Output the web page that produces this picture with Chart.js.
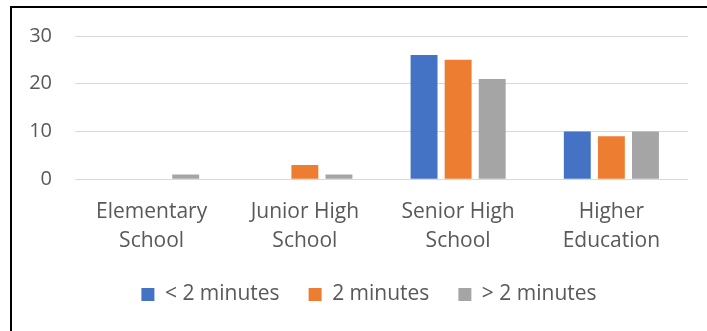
<!DOCTYPE html>
<html>
<head>
<meta charset="utf-8">
<script src="https://cdn.jsdelivr.net/npm/chart.js@4/dist/chart.umd.min.js"></script>
<style>
  html, body { margin: 0; padding: 0; background: #fff; overflow: hidden; width: 707px; height: 331px; }
  #frame { position: absolute; left: 10px; top: 6px; width: 800px; height: 400px; border: 2px solid #000; box-sizing: border-box; }
  #wrap { position: absolute; left: 0; top: 0; width: 707px; height: 331px; }
</style>
</head>
<body>
<div id="frame"></div>
<div id="wrap"><canvas id="c" width="707" height="331"></canvas></div>
<script>
const categories = [["Elementary", "School"], ["Junior High", "School"], ["Senior High", "School"], ["Higher", "Education"]];
const seriesNames = ["< 2 minutes", "2 minutes", "> 2 minutes"];
const lessThan2 = [0, 0, 26, 10];
const exactly2 = [0, 3, 25, 9];
const moreThan2 = [1, 1, 21, 10];
const yTicks = [0, 10, 20, 30];

const colors = ["#4472C4", "#ED7D31", "#A5A5A5"];
const FONT = "'Open Sans', 'Noto Sans', sans-serif";
const TXT = "#595959";

const shiftLegend = {
  id: "shiftLegend",
  beforeDraw(chart) {
    const l = chart.legend;
    if (l && !l._shifted) { l.left += 25; l.right += 25; l._shifted = true; }
  }
};

new Chart(document.getElementById("c"), {
  type: "bar",
  data: {
    labels: categories,
    datasets: [lessThan2, exactly2, moreThan2].map((d, i) => ({
      label: seriesNames[i],
      data: d,
      backgroundColor: colors[i],
      borderWidth: 0,
      categoryPercentage: 0.667,
      barPercentage: 0.79
    }))
  },
  plugins: [shiftLegend],
  options: {
    responsive: false,
    animation: false,
    events: [],
    layout: { padding: { left: 0, right: 19, top: 36, bottom: 16 } },
    plugins: {
      tooltip: { enabled: false },
      legend: {
        position: "bottom",
        labels: {
          boxWidth: 13, boxHeight: 13,
          padding: 29,
          color: TXT,
          font: { family: FONT, size: 21 }
        }
      }
    },
    scales: {
      x: {
        grid: { display: false, drawTicks: false },
        border: { display: false },
        afterFit: (s) => { s.height -= 19; },
        ticks: { color: TXT, font: { family: FONT, size: 21, lineHeight: 1.4 }, padding: 18, maxRotation: 0, autoSkip: false }
      },
      y: {
        min: 0, max: 30,
        afterBuildTicks: (s) => { s.ticks = yTicks.map(v => ({ value: v })); },
        afterFit: (s) => { s.width = 75; },
        grid: { color: "#D9D9D9", lineWidth: 1, drawTicks: false },
        border: { display: false },
        ticks: { color: TXT, font: { family: FONT, size: 20 }, padding: 23 }
      }
    }
  }
});
</script>
</body>
</html>
